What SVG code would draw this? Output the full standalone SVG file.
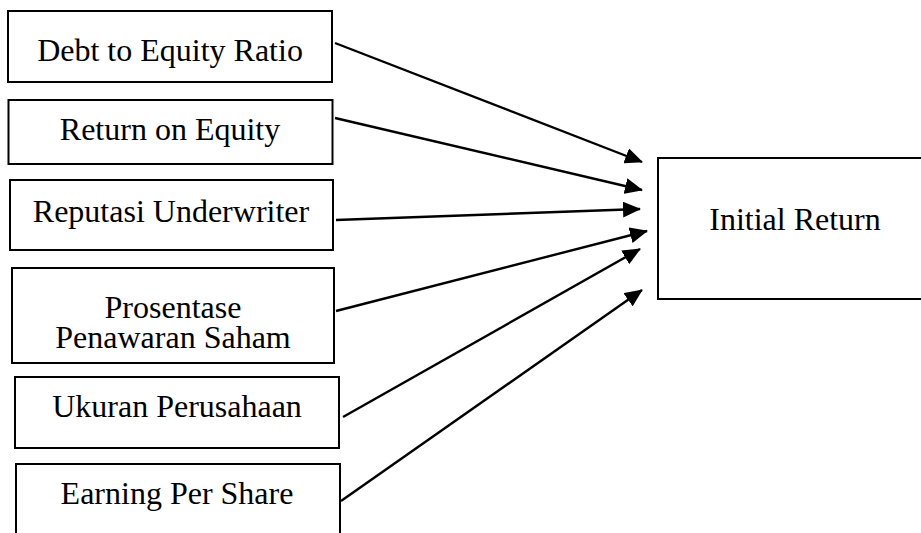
<svg xmlns="http://www.w3.org/2000/svg" width="921" height="533" viewBox="0 0 921 533">
<defs>
<style>
.box{fill:#fff;stroke:#000;stroke-width:2}
.lbl{font-family:"Liberation Serif","Times New Roman",serif;font-size:32px;fill:#000;text-anchor:middle}
.conn{stroke:#000;stroke-width:2.4;fill:none;marker-end:url(#ah)}
</style>
<marker id="ah" markerUnits="userSpaceOnUse" markerWidth="18" markerHeight="16" viewBox="0 0 18 16" refX="17" refY="8" orient="auto">
<path d="M0,0 L18,8 L0,16 Z" fill="#000"/>
</marker>
</defs>
<rect width="921" height="533" fill="#fff"/>
<g id="debt"><rect class="box" x="8" y="11" width="324" height="71"/><text class="lbl" x="170" y="61">Debt to Equity Ratio</text></g>
<g id="roe"><rect class="box" x="8.5" y="100" width="324" height="64"/><text class="lbl" x="170" y="140">Return on Equity</text></g>
<g id="reputasi"><rect class="box" x="10" y="180" width="323" height="70"/><text class="lbl" x="171" y="222">Reputasi Underwriter</text></g>
<g id="prosentase"><rect class="box" x="12" y="268" width="322" height="95"/><text class="lbl" x="173" y="318">Prosentase</text><text class="lbl" x="173" y="348">Penawaran Saham</text></g>
<g id="ukuran"><rect class="box" x="15" y="377" width="324" height="71"/><text class="lbl" x="177" y="417">Ukuran Perusahaan</text></g>
<g id="eps"><rect class="box" x="16" y="464" width="324" height="80"/><text class="lbl" x="177" y="504">Earning Per Share</text></g>
<g id="initial"><rect class="box" x="658" y="158" width="270" height="141"/><text class="lbl" x="795" y="230">Initial Return</text></g>
<g id="connectors">
<line class="conn" x1="335" y1="43" x2="642" y2="162"/>
<line class="conn" x1="335" y1="118" x2="642" y2="190"/>
<line class="conn" x1="336" y1="220" x2="640" y2="209"/>
<line class="conn" x1="336" y1="311" x2="647" y2="231"/>
<line class="conn" x1="343" y1="417" x2="640" y2="249"/>
<line class="conn" x1="341" y1="501" x2="642" y2="290"/>
</g>
</svg>
